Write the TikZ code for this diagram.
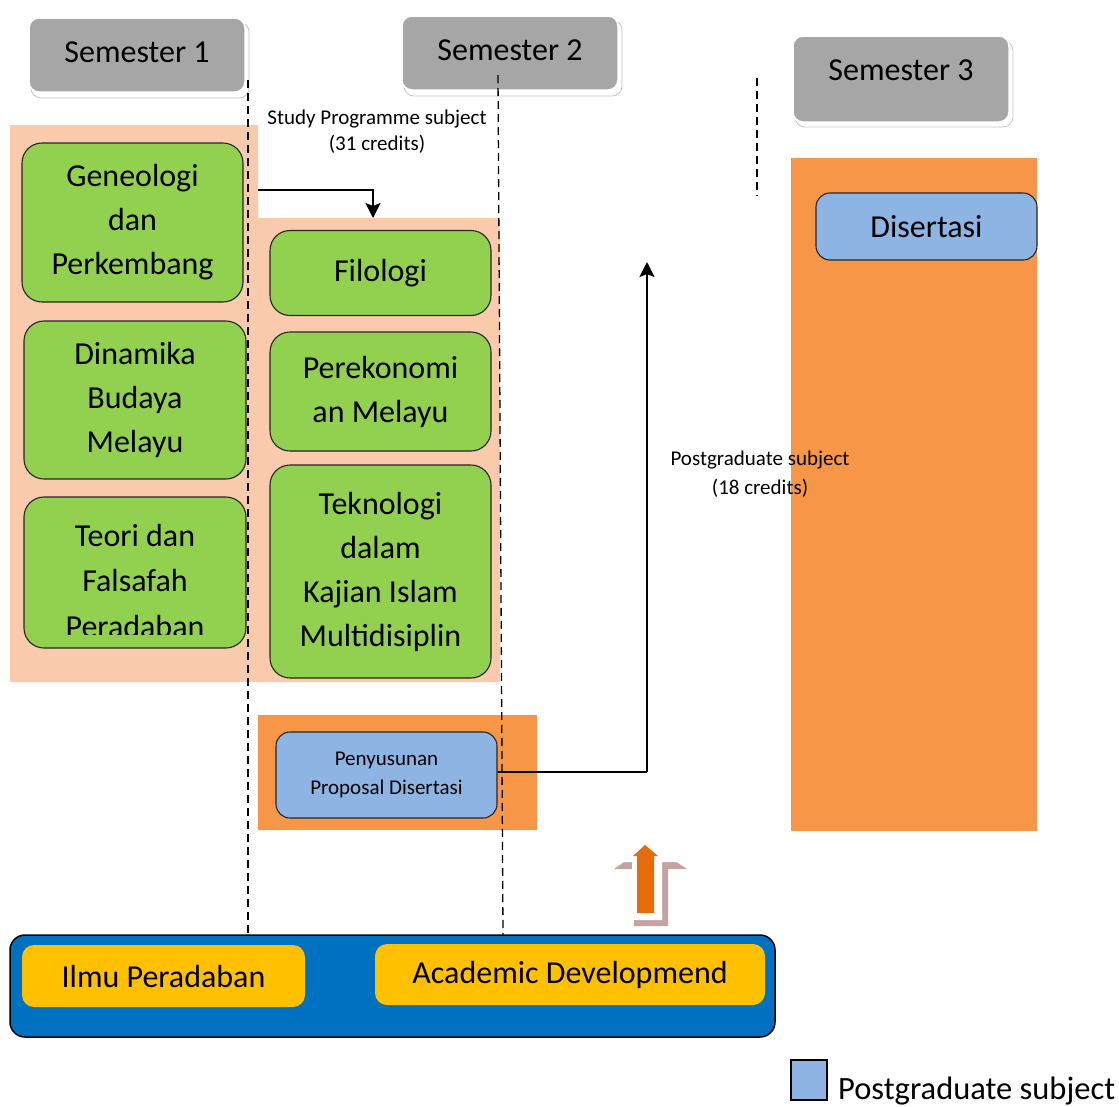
\documentclass[tikz,border=0pt]{standalone}
\usepackage{fontspec}
\setmainfont{Carlito}
\usetikzlibrary{arrows.meta}
\definecolor{peach}{HTML}{F9CBAC}
\definecolor{orangefill}{HTML}{F79646}
\definecolor{greenfill}{HTML}{92D050}
\definecolor{bluefill}{HTML}{8DB4E2}
\definecolor{barblue}{HTML}{0070C0}
\definecolor{gold}{HTML}{FFC000}
\definecolor{semgray}{HTML}{A6A6A6}
\definecolor{arrorange}{HTML}{E46C0A}
\definecolor{arrshade}{HTML}{C4A3A3}
\begin{document}
\begin{tikzpicture}[x=1pt,y=-1pt,
  bigtext/.style={font=\fontsize{32}{44}\selectfont, align=center},
  smalltext/.style={font=\fontsize{21}{29}\selectfont, align=center},
  sembox/.style={fill=semgray, draw=white, line width=1.5pt, rounded corners=10pt,
    minimum width=216, minimum height=74, inner sep=0pt},
  semshadow/.style={fill=white, draw=gray!45, line width=0.8pt, rounded corners=10pt,
    minimum width=218, minimum height=76, inner sep=0pt},
  gbox/.style={fill=greenfill, draw=black!85, line width=1.1pt, rounded corners=20pt,
    inner sep=0pt, bigtext},
  bbox/.style={fill=bluefill, draw=black!85, line width=1.1pt, rounded corners=14pt,
    inner sep=0pt},
  ybox/.style={fill=gold, rounded corners=12pt, inner sep=0pt, bigtext},
  divider/.style={draw=black, line width=1.3pt, dash pattern=on 8pt off 5pt},
  conn/.style={draw=black, line width=1.5pt},
  tip/.style={-{Stealth[length=15pt,width=15pt,inset=3pt]}}
]
\useasboundingbox (0,0) rectangle (1119,1106);

% semester headers
\node[semshadow] (s1sh) at (140,60) {};
\node[sembox] (s1) at (137,55) {};
\node[bigtext] (s1t) at (137,52) {Semester 1};
\node[semshadow] (s2sh) at (513,58) {};
\node[sembox] (s2) at (510,53) {};
\node[bigtext] (s2t) at (510,50) {Semester 2};
\node[semshadow, minimum height=86] (s3sh) at (904,84) {};
\node[sembox, minimum height=86] (s3) at (901,79) {};
\node[bigtext] (s3t) at (901,70) {Semester 3};

% coloured backgrounds
\fill[peach] (10,125) -- (258,125) -- (258,218) -- (500,218) -- (500,682) -- (10,682) -- cycle;
\fill[orangefill] (258,715) rectangle (537,830);
\fill[orangefill] (791,158) rectangle (1037,831);

% study programme subjects, semester 1
\node[gbox, minimum width=221, minimum height=159] (gen) at (132.5,222.5)
  {Geneologi\\dan\\Perkembang};
\node[gbox, minimum width=222, minimum height=158] (din) at (135,400)
  {Dinamika\\Budaya\\Melayu};
\node[gbox, minimum width=222, minimum height=151] (teo) at (135,572.5) {};
\begin{scope}
  \clip (20,497) rectangle (250,634);
  \node[bigtext, font=\fontsize{32}{45.5}\selectfont] (teot) at (135,580.5)
    {Teori dan\\Falsafah\\Peradaban};
\end{scope}

% study programme subjects, semester 2
\node[gbox, minimum width=221, minimum height=85] (fil) at (380.5,273) {Filologi};
\node[gbox, minimum width=221, minimum height=119] (per) at (380.5,391.5)
  {Perekonomi\\an Melayu};
\node[gbox, minimum width=221, minimum height=213] (tek) at (380.5,571.5)
  {Teknologi\\dalam\\Kajian Islam\\Multidisiplin};

% postgraduate subjects
\node[bbox, minimum width=221, minimum height=86, smalltext] (pen) at (386.5,775)
  {Penyusunan\\Proposal Disertasi};
\node[bbox, minimum width=221, minimum height=67, bigtext] (dis) at (926.5,226.5)
  {Disertasi};

% captions
\node[smalltext, font=\fontsize{21}{26}\selectfont] (spcap) at (377,132)
  {Study Programme subject\\(31 credits)};
\node[smalltext] (pgcap) at (760,474) {Postgraduate subject\\(18 credits)};

% connectors
\coordinate (genout) at (258,190);
\coordinate (filin) at (373,218);
\draw[conn, tip] (genout) -| (filin);
\coordinate (penturn) at (647,772);
\coordinate (pgtop) at (647,262);
\draw[conn] (pen.east |- penturn) -- (penturn);
\draw[conn, line width=2.4pt, tip] (penturn) -- (pgtop);

% semester dividers
\coordinate (d1a) at (248,80);  \coordinate (d1b) at (248,935);
\coordinate (d2a) at (498,75);  \coordinate (d2b) at (503,935);
\coordinate (d3a) at (757,78);  \coordinate (d3b) at (757,196);
\draw[divider] (d1a) -- (d1b);
\draw[divider] (d2a) -- (d2b);
\draw[divider] (d3a) -- (d3b);

% foundation bar
\node[fill=barblue, draw=black, line width=1.5pt, rounded corners=15pt,
  minimum width=765, minimum height=102, inner sep=0pt] (bar) at (392.5,986) {};
\node[ybox, minimum width=283, minimum height=62] (ilmu) at (163.5,976) {Ilmu Peradaban};
\node[ybox, minimum width=390, minimum height=61] (acad) at (570,974.5) {Academic Developmend};

% upward block arrow with its shadow
\fill[arrshade] (650,844) -- (687,869) -- (668,869) -- (668,926) -- (634,926)
  -- (634,869) -- (614,869) -- cycle;
\fill[white] (646,837) -- (683,862) -- (662,862) -- (662,920) -- (632,920)
  -- (632,862) -- (611,862) -- cycle;
\fill[arrorange] (645,845) -- (658,856) -- (654,856) -- (654,913) -- (637,913)
  -- (637,856) -- (633,856) -- cycle;

% legend
\node[fill=bluefill, draw=black, line width=1.3pt, minimum width=36, minimum height=40,
  inner sep=0pt] (legbox) at (809,1080) {};
\node[anchor=base west, inner sep=0pt, font=\fontsize{32.5}{36}\selectfont] (legtext)
  at (838,1099) {Postgraduate subject};
\end{tikzpicture}
\end{document}
